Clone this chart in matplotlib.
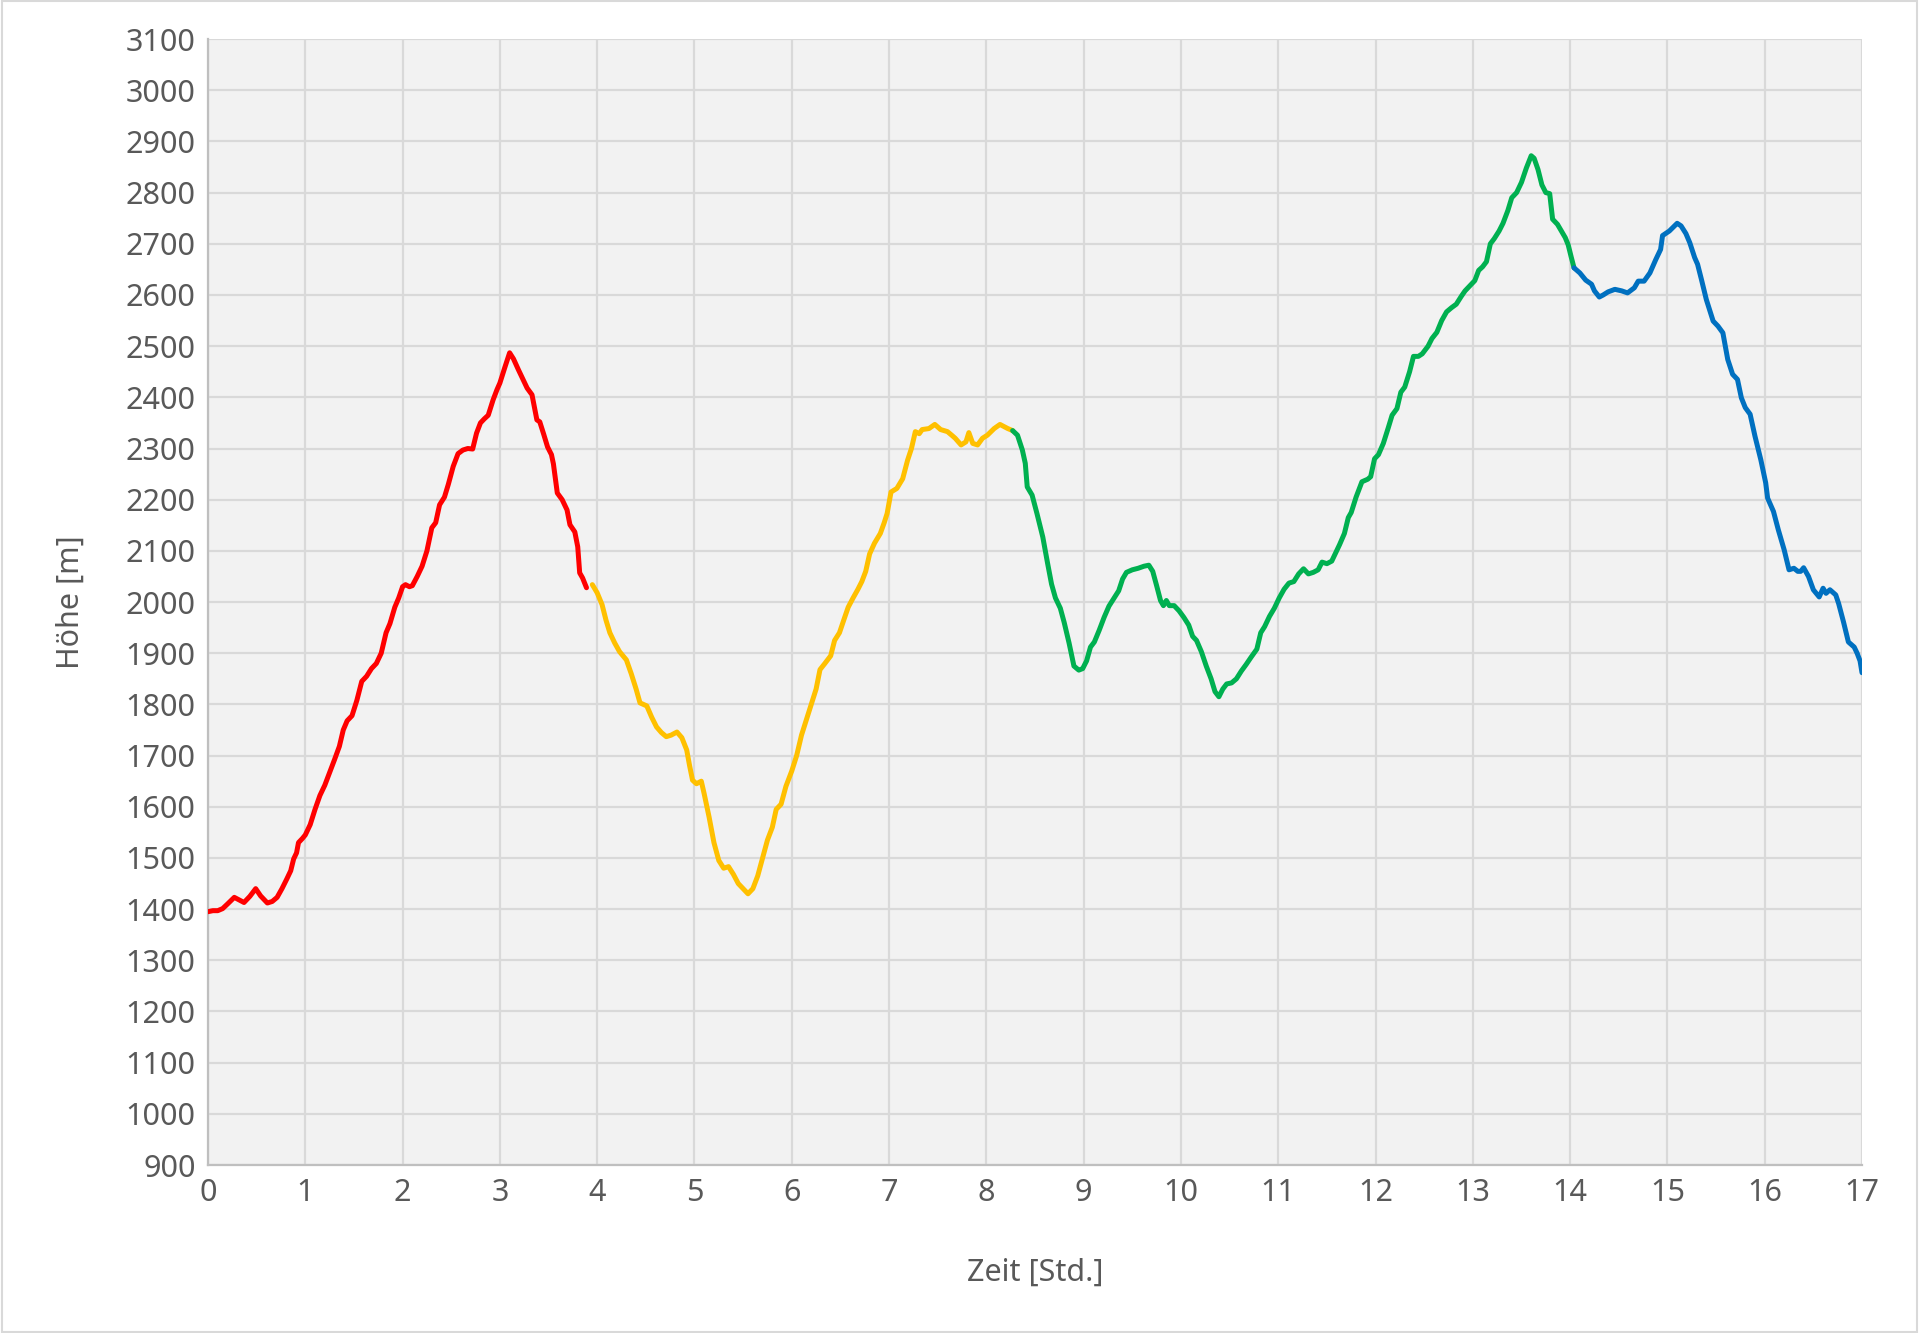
import matplotlib
matplotlib.use("Agg")
import matplotlib.pyplot as plt

plt.rcParams['font.family'] = ['Noto Sans', 'DejaVu Sans']

red_t = [0.00,0.05,0.10,0.15,0.20,0.27,0.32,0.37,0.43,0.49,0.54,0.61,0.66,0.71,0.76,0.81,0.85,0.88,0.91,0.93,0.97,1.00,1.05,1.10,1.15,1.20,1.25,1.30,1.35,1.39,1.43,1.48,1.53,1.58,1.63,1.68,1.73,1.78,1.83,1.87,1.92,1.96,2.00,2.03,2.07,2.10,2.15,2.20,2.25,2.30,2.34,2.38,2.43,2.47,2.52,2.57,2.62,2.67,2.72,2.76,2.80,2.84,2.88,2.93,2.97,3.00,3.05,3.10,3.14,3.19,3.23,3.28,3.33,3.38,3.41,3.45,3.49,3.53,3.55,3.59,3.64,3.69,3.72,3.77,3.80,3.82,3.85,3.89]
red_h = [1395,1397,1397,1401,1410,1423,1418,1413,1425,1440,1426,1412,1415,1423,1440,1459,1475,1498,1510,1530,1538,1545,1565,1595,1622,1642,1667,1692,1718,1750,1768,1778,1808,1845,1855,1870,1880,1900,1940,1958,1990,2008,2030,2034,2030,2032,2050,2070,2100,2145,2155,2190,2205,2230,2265,2290,2297,2300,2299,2330,2350,2358,2365,2395,2415,2428,2458,2487,2475,2454,2438,2418,2405,2356,2352,2328,2303,2288,2270,2213,2200,2180,2151,2137,2108,2057,2047,2028]

yellow_t = [3.95,4.00,4.05,4.09,4.13,4.18,4.23,4.30,4.35,4.40,4.44,4.51,4.56,4.61,4.66,4.71,4.76,4.82,4.87,4.92,4.95,4.98,5.02,5.07,5.10,5.15,5.20,5.25,5.30,5.35,5.40,5.45,5.50,5.55,5.60,5.65,5.70,5.75,5.80,5.84,5.89,5.94,6.00,6.05,6.10,6.15,6.20,6.25,6.29,6.34,6.40,6.44,6.49,6.54,6.58,6.63,6.68,6.72,6.76,6.80,6.85,6.91,6.95,6.98,7.02,7.08,7.14,7.19,7.23,7.27,7.31,7.34,7.41,7.47,7.53,7.60,7.65,7.68,7.74,7.79,7.82,7.86,7.91,7.96,8.01,8.08,8.14,8.22,8.27]
yellow_h = [2034,2018,1995,1965,1940,1920,1903,1887,1860,1830,1803,1797,1775,1756,1745,1737,1740,1746,1735,1711,1680,1652,1645,1650,1625,1580,1530,1495,1480,1483,1468,1450,1440,1430,1440,1465,1500,1535,1560,1595,1605,1640,1670,1700,1740,1770,1800,1830,1868,1880,1895,1925,1940,1968,1990,2008,2025,2040,2060,2094,2115,2134,2155,2173,2215,2222,2241,2277,2300,2333,2329,2337,2339,2347,2337,2333,2325,2320,2307,2313,2331,2310,2307,2320,2326,2339,2347,2339,2335]

green_t = [8.27,8.32,8.37,8.40,8.42,8.47,8.52,8.58,8.63,8.67,8.71,8.76,8.80,8.85,8.90,8.95,8.99,9.03,9.07,9.11,9.16,9.21,9.26,9.31,9.36,9.40,9.44,9.50,9.56,9.62,9.67,9.71,9.75,9.79,9.82,9.85,9.88,9.93,9.98,10.03,10.08,10.12,10.16,10.21,10.26,10.31,10.35,10.39,10.43,10.47,10.52,10.57,10.62,10.67,10.72,10.78,10.82,10.86,10.91,10.96,11.01,11.06,11.11,11.16,11.21,11.26,11.31,11.36,11.41,11.45,11.50,11.55,11.58,11.63,11.68,11.72,11.75,11.80,11.86,11.92,11.95,11.99,12.03,12.08,12.13,12.17,12.22,12.26,12.30,12.35,12.39,12.44,12.48,12.54,12.58,12.63,12.68,12.73,12.78,12.83,12.88,12.92,12.97,13.02,13.06,13.10,13.14,13.18,13.22,13.27,13.31,13.36,13.40,13.45,13.50,13.55,13.60,13.63,13.67,13.71,13.75,13.79,13.82,13.87,13.91,13.95,13.98,14.01,14.04]
green_h = [2335,2326,2297,2271,2225,2209,2173,2127,2075,2035,2008,1988,1960,1920,1875,1867,1870,1885,1912,1922,1945,1970,1992,2007,2022,2045,2058,2063,2066,2070,2072,2060,2032,2003,1993,2003,1993,1993,1983,1970,1955,1933,1925,1903,1875,1850,1825,1815,1830,1840,1842,1850,1865,1878,1892,1908,1940,1952,1972,1988,2008,2025,2037,2040,2055,2065,2055,2058,2063,2078,2075,2080,2092,2112,2134,2165,2175,2205,2235,2240,2245,2280,2288,2310,2340,2365,2378,2410,2420,2450,2480,2480,2485,2500,2515,2527,2550,2567,2575,2582,2597,2608,2618,2628,2648,2655,2665,2700,2710,2725,2740,2765,2790,2800,2820,2848,2872,2867,2845,2815,2800,2798,2748,2738,2725,2712,2698,2675,2653]

blue_t = [14.04,14.10,14.16,14.22,14.25,14.30,14.34,14.39,14.46,14.53,14.59,14.66,14.70,14.76,14.82,14.88,14.93,14.95,15.02,15.10,15.14,15.19,15.23,15.28,15.31,15.35,15.40,15.47,15.52,15.57,15.62,15.67,15.72,15.76,15.80,15.85,15.90,15.96,16.01,16.03,16.09,16.14,16.20,16.25,16.30,16.34,16.37,16.40,16.45,16.50,16.56,16.60,16.63,16.67,16.73,16.76,16.81,16.86,16.92,16.95,16.98,17.00]
blue_h = [2653,2643,2629,2621,2608,2596,2600,2606,2611,2608,2604,2614,2627,2627,2643,2669,2689,2716,2725,2740,2735,2720,2702,2673,2660,2630,2591,2549,2539,2526,2474,2445,2435,2399,2380,2367,2324,2278,2233,2203,2177,2141,2102,2063,2066,2060,2060,2067,2050,2024,2010,2027,2017,2024,2014,1997,1961,1922,1912,1900,1885,1862]

x_ticks = list(range(0, 18))
y_ticks = list(range(900, 3101, 100))

fig = plt.figure(figsize=(19.19, 13.33), dpi=100)
fig.patch.set_facecolor('white')
ax = fig.add_axes([0.1084, 0.126, 0.9703 - 0.1084, 0.9707 - 0.126])
ax.set_facecolor('#F2F2F2')

lw = 3.6
for t, h, c in [(red_t, red_h, '#FF0000'), (yellow_t, yellow_h, '#FFC000'),
                (green_t, green_h, '#00B050'), (blue_t, blue_h, '#0070C0')]:
    ax.plot(t, h, color=c, lw=lw, solid_joinstyle='round', solid_capstyle='round', zorder=3)

ax.set_xlim(0, 17)
ax.set_ylim(900, 3100)
ax.set_xticks(x_ticks)
ax.set_yticks(y_ticks)
ax.grid(True, color='#D9D9D9', lw=1.6, zorder=0)
ax.set_axisbelow(True)
for s in ['top', 'right']:
    ax.spines[s].set_visible(False)
for s in ['left', 'bottom']:
    ax.spines[s].set_color('#BFBFBF')
    ax.spines[s].set_linewidth(1.6)
ax.tick_params(length=0, labelsize=22, labelcolor='#595959', pad=9)
ax.set_xlabel('Zeit [Std.]', fontsize=22, color='#595959', labelpad=36)
ax.set_ylabel('Höhe [m]', fontsize=22, color='#595959', labelpad=29)

border = plt.Rectangle((0.001, 0.001), 0.998, 0.998, transform=fig.transFigure,
                       fill=False, edgecolor='#D9D9D9', lw=1.5)
fig.patches.append(border)

fig.savefig('out.png', dpi=100)
